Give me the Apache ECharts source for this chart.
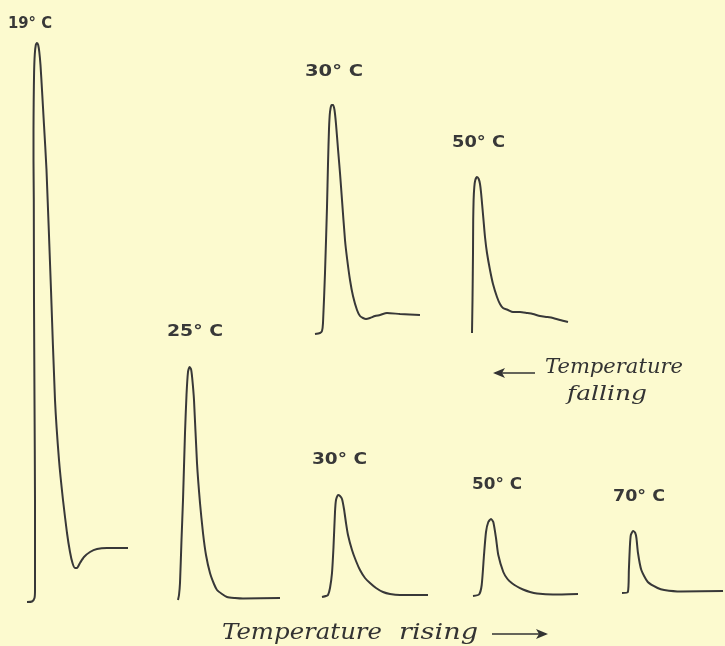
<!DOCTYPE html>
<html>
<head>
<meta charset="utf-8">
<script src="https://cdn.jsdelivr.net/npm/echarts@6/dist/echarts.min.js"></script>
<style>
html,body{margin:0;padding:0;background:#fcfacf;}
#chart{width:725px;height:646px;}
</style>
</head>
<body>
<div id="chart"></div>
<script>
// ---- Data: muscle twitch tracings, [time, height] in drawing units ----
const labels = ['19° C', '25° C', '30° C', '50° C', '30° C', '50° C', '70° C'];

const twitch19C = [[0,0],[5,0.5],[7.5,4],[8,12],[8,102],[7.5,202],[7,302],[6.8,402],[6.5,442],[6.5,472],[6.7,502],[7.1,530],[7.8,548],[8.8,557],[10,559],[11.2,557],[12.3,550],[13.5,537],[15,512],[17,477],[19.5,432],[24,312],[28,202],[32,142],[36,102],[40,69],[43,50],[45.5,39],[48,34],[50,34],[53,39],[57,45],[63,50],[70,53],[80,54],[101,54]];
const twitch25C = [[0,0],[1,5],[2,17],[3.5,60],[5,100],[7,167],[8.5,205],[10,228],[11.5,233],[13,231],[14.2,222],[16,200],[19,137],[22,97],[25,67],[28,45],[32,27],[36,16],[39,10],[44,6],[49,3],[57,2],[65,1.5],[102,2]];
const twitch30Cfall = [[0,0],[5,1],[7,3],[8,11],[10,61],[12,127],[13,170],[14,205],[15,222],[16.5,229],[18,229],[19.5,224],[21,210],[23,185],[25,161],[27,134],[30,94],[32,76],[35,54],[38,38],[42,24],[45,18],[48,16],[51,15],[55,16],[60,18],[65,19],[72,21],[85,20],[105,19]];
const twitch50Cfall = [[0,0],[0.5,33],[1,80],[1.2,113],[1.6,133],[2.3,146],[3.3,153],[5,156],[6.7,154],[8,149],[9,141],[10,130],[11.5,113],[13,96],[15,80],[18,63],[21,49],[25,36],[28,29],[31,25],[36,23],[41,21],[48,21],[55,20],[61,19],[68,17],[75,16],[81,15],[88,13],[96,11]];
const twitch30Crise = [[0,0],[4,1],[6,2],[8,9],[10,24],[11.5,50],[13,85],[14,97],[16,102],[18,101],[20,98],[22,88],[24,74],[26,62],[30,47],[34,36],[38,27],[43,19],[48,14],[54,9],[61,5],[68,3],[78,2],[106,2]];
const twitch50Crise = [[0,0],[6,1.5],[8.7,11],[11,41],[13,64],[15.3,74],[18,77],[20.3,74],[23,58],[25.3,41],[30.3,24],[34.5,17],[38.7,13],[44,9.5],[50,6.5],[57,4],[64,2.5],[80,1.5],[105,2]];
const twitch70C = [[0,0],[6,1],[7,23],[8,46],[9,58],[11.3,62],[13.5,60],[14.7,55],[16.3,40],[19.7,23],[26.3,11],[36.3,5],[43,3],[60,1.5],[103,2]];

const traces = [twitch19C, twitch25C, twitch30Cfall, twitch50Cfall, twitch30Crise, twitch50Crise, twitch70C];

// ---- Layout (pixel placement of each tracing and label) ----
const origins = [[27,602],[178,600],[315,334],[472,333],[322,597],[473,596],[622,593]];
const labelPos = [[8,24],[167,332],[305,72],[452,143],[312,460],[472,485],[613,497]];
const labelW = [44, 56, 58, 53, 55, 50, 52];

const LINE = '#383838';
const grids = [], xAxes = [], yAxes = [], series = [];
traces.forEach((d, i) => {
  const w = Math.max(...d.map(p => p[0])) + 2;
  const h = Math.max(...d.map(p => p[1])) + 4;
  grids.push({left: origins[i][0], top: origins[i][1] - h, width: w, height: h});
  xAxes.push({type:'value', gridIndex:i, min:0, max:w, show:false});
  yAxes.push({type:'value', gridIndex:i, min:0, max:h, show:false});
  series.push({
    type:'line', xAxisIndex:i, yAxisIndex:i, data:d,
    showSymbol:false, smooth:0.2, clip:false, silent:true,
    lineStyle:{color:LINE, width:2}
  });
});

const ctx = document.createElement('canvas').getContext('2d');
function fitText(text, font, x, y, targetW, fill) {
  ctx.font = font;
  const w = ctx.measureText(text).width;
  return {type:'text', x:x, y:y, scaleX: targetW / w, silent:true,
    style:{text:text, font:font, fill:fill || '#333', textVerticalAlign:'middle'}};
}

const labelFont = 'bold 15px "DejaVu Sans"';
const graphics = labels.map((t, i) => fitText(t, labelFont, labelPos[i][0], labelPos[i][1], labelW[i], '#383838'));

const serifBig = 'italic 22px "DejaVu Serif"';
const serifSm = 'italic 20px "DejaVu Serif"';
graphics.push(
  fitText('Temperature', serifBig, 222, 633, 160),
  fitText('rising', serifBig, 399, 633, 79),
  {type:'line', shape:{x1:492, y1:634, x2:546, y2:634}, style:{stroke:'#333', lineWidth:1.5}},
  {type:'polygon', shape:{points:[[548,634],[536,629],[539,634],[536,639]]}, style:{fill:'#333'}},
  fitText('Temperature', serifSm, 545, 368, 138),
  fitText('falling', serifSm, 567, 395, 80),
  {type:'line', shape:{x1:495, y1:373, x2:535, y2:373}, style:{stroke:'#333', lineWidth:1.5}},
  {type:'polygon', shape:{points:[[493,373],[505,368],[502,373],[505,378]]}, style:{fill:'#333'}}
);

const chart = echarts.init(document.getElementById('chart'), null, {renderer:'canvas'});
chart.setOption({
  backgroundColor:'#fcfacf',
  animation:false,
  grid:grids, xAxis:xAxes, yAxis:yAxes, series:series,
  graphic:graphics
});
</script>
</body>
</html>
